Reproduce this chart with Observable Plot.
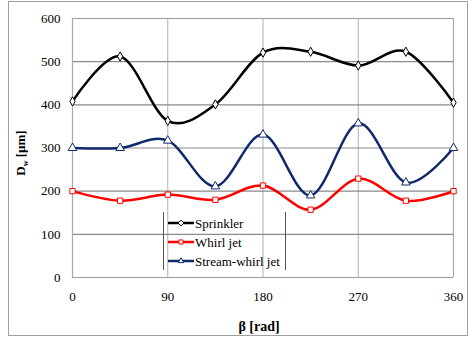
<!DOCTYPE html>
<html>
<head>
<meta charset="utf-8">
<script src="https://cdn.jsdelivr.net/npm/d3@7"></script>
<script src="https://cdn.jsdelivr.net/npm/@observablehq/plot@0.6"></script>
<style>
  html, body { margin: 0; padding: 0; background: #fff; }
  #chart { width: 468px; height: 337px; }
</style>
</head>
<body>
<div id="chart"></div>
<script>
// Droplet mean diameter D_w versus angle β for three nozzle types
const beta = [0, 45, 90, 135, 180, 225, 270, 315, 360];
const sprinkler = [408, 512, 363, 401, 521, 523, 491, 523, 405];
const whirlJet = [200, 178, 192, 180, 213, 157, 229, 178, 200];
const streamWhirlJet = [300, 300, 317, 211, 331, 190, 357, 220, 300];

const yTicks = [0, 100, 200, 300, 400, 500, 600];
const xTicks = [0, 90, 180, 270, 360];

const seriesNames = ["Sprinkler", "Whirl jet", "Stream-whirl jet"];
const seriesColors = ["#000000", "#ff0000", "#0f2a6b"];
const seriesSymbols = ["diamond", "square", "triangle"];
const seriesValues = [sprinkler, whirlJet, streamWhirlJet];

const rows = seriesNames.flatMap((name, s) =>
  beta.map((b, i) => ({ series: name, beta: b, value: seriesValues[s][i] }))
);

const W = 468, H = 337;
const margin = { left: 72, right: 15, top: 18, bottom: 60 };
const symbolR = { diamond: 2.8, square: 3, triangle: 3.2 };
const FONT = "Liberation Serif";

const marks = [
  Plot.ruleX([90, 180, 270], { stroke: "#b0b0b0", strokeWidth: 1 }),
  Plot.ruleY([100, 200, 300, 400, 500], { stroke: "#8a8a8a", strokeWidth: 1.2 }),
  Plot.ruleY([0, 600], { stroke: "#9a9a9a", strokeWidth: 1.2 }),
  Plot.ruleX([0, 360], { stroke: "#a8a8a8", strokeWidth: 1.2 }),
  Plot.axisY({ ticks: yTicks, tickSize: 0, tickPadding: 12, label: null }),
  Plot.axisX({ ticks: xTicks, tickSize: 0, tickPadding: 14, label: null })
];

seriesNames.forEach((name, s) => {
  const d = rows.filter(r => r.series === name);
  marks.push(Plot.line(d, {
    x: "beta", y: "value", stroke: seriesColors[s], strokeWidth: 2.5,
    curve: "cardinal", tension: 0
  }));
  marks.push(Plot.dot(d, {
    x: "beta", y: "value", symbol: seriesSymbols[s], r: symbolR[seriesSymbols[s]],
    stroke: seriesColors[s], fill: "#fff", strokeWidth: 1
  }));
});

const svgNode = Plot.plot({
  width: W, height: H,
  marginLeft: margin.left, marginRight: margin.right,
  marginTop: margin.top, marginBottom: margin.bottom,
  x: { domain: [0, 360] },
  y: { domain: [0, 600] },
  style: { fontFamily: FONT, fontSize: "13px", color: "#000", background: "#fff", overflow: "visible" },
  marks
});

document.getElementById("chart").appendChild(svgNode);

const svg = d3.select(svgNode);
svg.attr("font-family", FONT);
svg.selectAll("text").attr("font-family", FONT);

// outer chart frame
svg.append("rect")
  .attr("x", 8.5).attr("y", 1.5).attr("width", 459).attr("height", 334)
  .attr("fill", "none").attr("stroke", "#a0a0a0").attr("stroke-width", 1);

// axis titles
const yLab = svg.append("text")
  .attr("transform", "translate(25,153) rotate(-90)")
  .attr("text-anchor", "middle").attr("font-family", FONT)
  .attr("font-weight", "bold").attr("font-size", 13);
yLab.append("tspan").text("D");
yLab.append("tspan").attr("font-size", 8).attr("dy", 3).text("w");
yLab.append("tspan").attr("dy", -3).text(" [µm]");

svg.append("text")
  .attr("x", 259).attr("y", 331)
  .attr("text-anchor", "middle").attr("font-family", FONT)
  .attr("font-weight", "bold").attr("font-size", 14)
  .text("β [rad]");

// legend inside the plot area
const lg = svg.append("g");
lg.append("line").attr("x1", 163.5).attr("x2", 163.5).attr("y1", 212).attr("y2", 270)
  .attr("stroke", "#555").attr("stroke-width", 1);
lg.append("line").attr("x1", 285.5).attr("x2", 285.5).attr("y1", 212).attr("y2", 270)
  .attr("stroke", "#555").attr("stroke-width", 1);
const sym = { diamond: d3.symbolDiamond2, square: d3.symbolSquare2, triangle: d3.symbolTriangle2 };
seriesNames.forEach((name, s) => {
  const y = 223 + s * 19;
  lg.append("line").attr("x1", 168).attr("x2", 194).attr("y1", y).attr("y2", y)
    .attr("stroke", seriesColors[s]).attr("stroke-width", 2.5);
  lg.append("path")
    .attr("d", d3.symbol(sym[seriesSymbols[s]], 22)())
    .attr("transform", `translate(181,${y})`)
    .attr("fill", "#fff").attr("stroke", seriesColors[s]).attr("stroke-width", 1);
  lg.append("text").attr("x", 195).attr("y", y).attr("dy", "0.35em")
    .attr("text-anchor", "start").attr("font-family", FONT)
    .attr("font-size", 13).text(name);
});
</script>
</body>
</html>
